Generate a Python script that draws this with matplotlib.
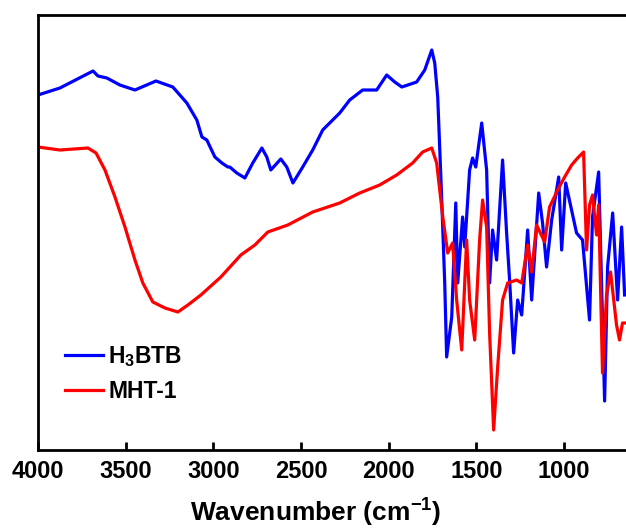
import matplotlib
matplotlib.use("Agg")
import matplotlib.pyplot as plt
import numpy as np

plt.rcParams['font.family'] = 'Liberation Sans'
plt.rcParams['font.weight'] = 'bold'
plt.rcParams['mathtext.fontset'] = 'custom'
plt.rcParams['mathtext.rm'] = 'Liberation Sans:bold'
plt.rcParams['mathtext.default'] = 'rm'

# FTIR spectra (wavenumber in cm-1, transmittance in a.u.)
wn_h3btb = [4000, 3875, 3686, 3658, 3607, 3533, 3447, 3327, 3231, 3151, 3094, 3065,
            3037, 2991, 2951, 2917, 2906, 2866, 2820, 2775, 2723, 2695, 2672, 2615,
            2581, 2546, 2490, 2433, 2376, 2279, 2222, 2148, 2068, 2011, 1965, 1925,
            1840, 1794, 1754, 1737, 1720, 1697, 1680, 1669, 1640, 1617, 1606, 1578,
            1566, 1538, 1521, 1503, 1469, 1441, 1424, 1407, 1384, 1350, 1327, 1310,
            1287, 1264, 1241, 1207, 1184, 1144, 1122, 1099, 1070, 1030, 1013, 990,
            928, 894, 854, 837, 802, 768, 751, 722, 694, 671, 654]
tr_h3btb = [355, 362, 379, 374, 372, 365, 360, 369, 363, 347, 330, 313,
            310, 293, 287, 283, 283, 277, 272, 287, 302, 293, 280, 291,
            283, 267, 283, 300, 320, 337, 350, 360, 360, 375, 368, 363,
            368, 380, 400, 387, 353, 250, 167, 93, 133, 247, 167, 233,
            203, 280, 292, 283, 327, 280, 167, 220, 190, 290, 217, 170,
            97, 150, 135, 220, 150, 257, 227, 183, 230, 273, 200, 267,
            217, 210, 130, 233, 278, 49, 183, 237, 150, 223, 155]

wn_mht1 = [4000, 3875, 3715, 3669, 3618, 3561, 3504, 3447, 3402, 3345, 3276, 3202,
           3145, 3071, 2957, 2843, 2763, 2689, 2575, 2433, 2279, 2165, 2051, 1954,
           1863, 1806, 1754, 1726, 1691, 1663, 1635, 1612, 1583, 1555, 1538, 1509,
           1481, 1464, 1441, 1424, 1401, 1378, 1350, 1321, 1270, 1241, 1207, 1184,
           1156, 1110, 1082, 1036, 996, 956, 922, 888, 871, 854, 837, 814, 802,
           780, 757, 734, 700, 683, 666, 654]
tr_mht1 = [303, 300, 302, 297, 280, 253, 223, 190, 167, 148, 142, 138,
           145, 155, 173, 195, 205, 218, 225, 238, 247, 257, 265, 275,
           287, 298, 302, 287, 233, 197, 207, 150, 100, 210, 150, 110,
           210, 250, 223, 117, 20, 83, 150, 167, 170, 167, 205, 178,
           225, 208, 243, 260, 273, 285, 292, 298, 200, 245, 255, 215, 245,
           77, 155, 178, 125, 110, 127, 127]

fig = plt.figure(figsize=(6.26, 5.31), dpi=100)
ax = fig.add_axes([38/626, 81/531, 588/626, 435/531])

ax.plot(wn_h3btb, tr_h3btb, color='#0000ff', lw=2.3, label='H$_3$BTB')
ax.plot(wn_mht1, tr_mht1, color='#ff0000', lw=2.3, label='MHT-1')

ax.set_xlim(4000, 646)
ax.set_ylim(0, 435)
ax.set_xticks([4000, 3500, 3000, 2500, 2000, 1500, 1000])
ax.set_yticks([])
ax.tick_params(axis='x', direction='in', length=6, width=2, labelsize=17, pad=7)
for s in ['left', 'top', 'bottom']:
    ax.spines[s].set_linewidth(2)
ax.spines['right'].set_visible(False)

ax.set_xlabel('Wavenumber (cm$^{-1}$)', fontsize=19, fontweight='bold', labelpad=10)
ax.xaxis.label.set_x(0.473)

ax.legend(loc='upper left', bbox_to_anchor=(0.01, 0.29), frameon=False,
          fontsize=16.5, handlelength=1.7, handletextpad=0.2, labelspacing=0.45)

fig.savefig('out.png', dpi=100)
